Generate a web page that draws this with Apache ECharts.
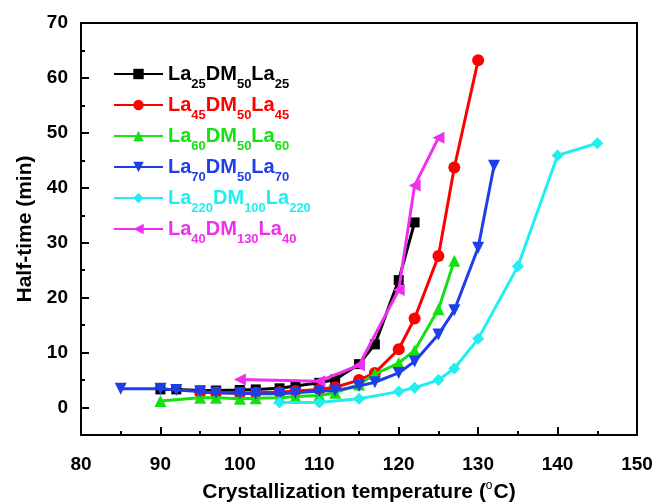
<!DOCTYPE html>
<html>
<head>
<meta charset="utf-8">
<script src="https://cdn.jsdelivr.net/npm/echarts@6/dist/echarts.min.js"></script>
<style>
  html, body { margin: 0; padding: 0; background: #fff; }
  #chart { width: 659px; height: 503px; }
</style>
</head>
<body>
<div id="chart"></div>
<script>
// Half-time of crystallization vs. crystallization temperature
const seriesNames = ['La25DM50La25', 'La45DM50La45', 'La60DM50La60', 'La70DM50La70', 'La220DM100La220', 'La40DM130La40'];
const seriesColors = ['#000000', '#ff0000', '#14e014', '#1f3fe6', '#22eef2', '#ee30ee'];
const seriesSymbols = ['rect', 'circle', 'triangle', 'triangle', 'diamond', 'triangle'];
const seriesRotate = [0, 0, 0, 180, 0, 90];

const tempBlack = [90, 92, 95, 97, 100, 102, 105, 107, 110, 112, 115, 117, 120, 122];
const halfBlack = [3.3, 3.3, 3.1, 3.1, 3.2, 3.3, 3.5, 3.9, 4.5, 5.1, 7.9, 11.5, 23.2, 33.7];

const tempRed = [95, 97, 100, 102, 105, 107, 110, 112, 115, 117, 120, 122, 125, 127, 130];
const halfRed = [2.8, 2.7, 2.6, 2.7, 2.8, 3.0, 3.3, 3.7, 5.0, 6.3, 10.6, 16.2, 27.6, 43.7, 63.2];

const tempGreen = [90, 95, 97, 100, 102, 105, 107, 110, 112, 115, 117, 120, 122, 125, 127];
const halfGreen = [1.2, 1.8, 1.8, 1.6, 1.7, 1.8, 2.0, 2.2, 2.7, 4.2, 6.1, 8.1, 10.4, 17.9, 26.7];

const tempBlue = [85, 90, 92, 95, 97, 100, 102, 105, 107, 110, 112, 115, 117, 120, 122, 125, 127, 130, 132];
const halfBlue = [3.4, 3.4, 3.2, 2.9, 2.7, 2.6, 2.5, 2.5, 2.7, 3.0, 3.1, 3.9, 4.6, 6.3, 8.4, 13.3, 17.7, 29.1, 44.0];

const tempCyan = [105, 110, 115, 120, 122, 125, 127, 130, 135, 140, 145];
const halfCyan = [0.9, 0.9, 1.6, 2.9, 3.6, 5.0, 7.1, 12.5, 25.7, 45.9, 48.1];

const tempMagenta = [100, 110, 115, 120, 122, 125];
const halfMagenta = [5.1, 4.8, 7.7, 21.4, 40.4, 49.1];

const yTicks = [0, 10, 20, 30, 40, 50, 60, 70];
const yMinorTicks = [5, 15, 25, 35, 45, 55, 65];

const temps = [tempBlack, tempRed, tempGreen, tempBlue, tempCyan, tempMagenta];
const halves = [halfBlack, halfRed, halfGreen, halfBlue, halfCyan, halfMagenta];

const FONT = '"Liberation Sans", Arial, sans-serif';
const X_MIN = 80, X_MAX = 150, Y_MIN = -5, Y_MAX = 70;

// "La25DM50La25" -> rich text with the numbers as subscripts
function richName(name) {
  return name.split(/(\d+)/).filter(p => p !== '')
    .map(p => /^\d+$/.test(p) ? '{s|' + p + '}' : '{m|' + p + '}').join('');
}

const chart = echarts.init(document.getElementById('chart'), null, { renderer: 'canvas' });

const series = seriesNames.map((name, i) => ({
  name: name,
  type: 'line',
  xAxisIndex: 0,
  yAxisIndex: 0,
  data: temps[i].map((t, k) => [t, halves[i][k]]),
  symbol: seriesSymbols[i],
  symbolRotate: seriesRotate[i],
  symbolSize: seriesSymbols[i] === 'rect' ? 10 : 12,
  lineStyle: { color: seriesColors[i], width: 3 },
  itemStyle: { color: seriesColors[i] },
  emphasis: { disabled: true },
  z: 3 + i,
  animation: false
}));

const legendData = seriesNames.map((name, i) => ({
  name: name,
  textStyle: {
    color: seriesColors[i],
    rich: {
      m: { color: seriesColors[i], fontSize: 20, fontWeight: 'bold', fontFamily: FONT, lineHeight: 34, verticalAlign: 'middle' },
      s: { color: seriesColors[i], fontSize: 13, fontWeight: 'bold', fontFamily: FONT, lineHeight: 12, padding: [22, 0, 0, 0], verticalAlign: 'bottom' }
    }
  }
}));

const tickLine = () => ({ color: '#000', width: 2 });
const frameLine = () => ({ show: true, lineStyle: { color: '#000', width: 2 }, onZero: false });
const hiddenLine = () => ({ show: false, onZero: false });
const noLabels = () => ({ axisLabel: { show: false }, splitLine: { show: false }, minorSplitLine: { show: false } });

chart.setOption({
  backgroundColor: '#fff',
  animation: false,
  grid: {
    left: 81, right: 22, top: 23, bottom: 68,
    outerBoundsMode: 'none',
    containLabel: false,
    show: false
  },
  legend: {
    orient: 'vertical',
    left: 113, top: 56,
    padding: 0,
    itemWidth: 49, itemHeight: 13,
    itemGap: -4,
    selectedMode: false,
    formatter: richName,
    textStyle: { fontFamily: FONT, fontWeight: 'bold', fontSize: 20 },
    data: legendData
  },
  xAxis: [{
    // bottom axis: line, labels and title
    type: 'value',
    position: 'bottom',
    min: X_MIN, max: X_MAX, interval: 10,
    name: '{t|Crystallization temperature (}{o|o}{t|C)}',
    nameLocation: 'middle',
    nameGap: 43,
    nameTextStyle: {
      rich: {
        t: { fontFamily: FONT, fontWeight: 'bold', fontSize: 21, color: '#000', lineHeight: 26, verticalAlign: 'middle' },
        o: { fontFamily: FONT, fontWeight: 'normal', fontSize: 12, color: '#000', lineHeight: 12, verticalAlign: 'top', padding: [1, 1, 0, 0] }
      }
    },
    axisLine: frameLine(),
    axisTick: { show: false },
    minorTick: { show: false },
    splitLine: { show: false },
    axisLabel: { show: true, margin: 20, color: '#000', fontFamily: FONT, fontWeight: 'bold', fontSize: 19 }
  }, Object.assign({
    // bottom axis: inward ticks
    type: 'value', position: 'bottom', min: X_MIN, max: X_MAX, interval: 10,
    axisLine: hiddenLine(),
    axisTick: { show: true, inside: true, length: 8, lineStyle: tickLine() },
    minorTick: { show: true, splitNumber: 2, length: 4, lineStyle: tickLine() }
  }, noLabels()), Object.assign({
    // top edge of the frame
    type: 'value', position: 'top', min: X_MIN, max: X_MAX, interval: 10,
    axisLine: frameLine(), axisTick: { show: false }
  }, noLabels())],
  yAxis: [{
    // left axis: line, labels and title
    type: 'value',
    position: 'left',
    min: Y_MIN, max: Y_MAX,
    name: 'Half-time (min)',
    nameLocation: 'middle',
    nameGap: 44,
    nameTextStyle: { fontFamily: FONT, fontWeight: 'bold', fontSize: 21, color: '#000' },
    axisLine: frameLine(),
    axisTick: { show: false },
    splitLine: { show: false },
    axisLabel: {
      show: true, margin: 13, color: '#000', fontFamily: FONT, fontWeight: 'bold', fontSize: 19,
      customValues: yTicks
    }
  }, Object.assign({
    // left axis: long inward ticks at the labelled values
    type: 'value', position: 'left', min: Y_MIN, max: Y_MAX,
    axisLine: hiddenLine(),
    axisTick: { show: true, inside: true, length: 8, lineStyle: tickLine(), customValues: yTicks }
  }, noLabels()), Object.assign({
    // left axis: short ticks halfway between
    type: 'value', position: 'left', min: Y_MIN, max: Y_MAX,
    axisLine: hiddenLine(),
    axisTick: { show: true, inside: true, length: 4, lineStyle: tickLine(), customValues: yMinorTicks }
  }, noLabels()), Object.assign({
    // right edge of the frame
    type: 'value', position: 'right', min: Y_MIN, max: Y_MAX,
    axisLine: frameLine(), axisTick: { show: false }
  }, noLabels())],
  series: series
});
</script>
</body>
</html>
